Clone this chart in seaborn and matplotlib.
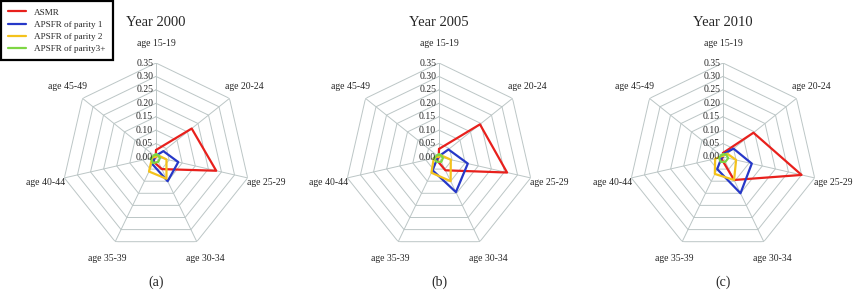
#!/usr/bin/env python3
"""Radar charts of age-specific fertility rates for 2000, 2005 and 2010."""

import numpy as np
import pandas as pd
import matplotlib
matplotlib.use("Agg")
import matplotlib.pyplot as plt
from matplotlib.lines import Line2D
import seaborn as sns

AGES = ["age 15-19", "age 20-24", "age 25-29", "age 30-34",
        "age 35-39", "age 40-44", "age 45-49"]
YEARS = ["Year 2000", "Year 2005", "Year 2010"]
PANELS = ["(a)", "(b)", "(c)"]
SERIES = ["ASMR", "APSFR of parity 1", "APSFR of parity 2", "APSFR of parity3+"]
RINGS = [0.05, 0.10, 0.15, 0.20, 0.25, 0.30, 0.35]
TICKS = [0.00, 0.05, 0.10, 0.15, 0.20, 0.25, 0.30, 0.35]

# values, one list per series and year
asmr_2000 = [0.026, 0.170, 0.230, 0.050, 0.020, 0.005, 0.001]
p1_2000 = [0.005, 0.035, 0.085, 0.100, 0.030, 0.005, 0.001]
p2_2000 = [0.002, 0.010, 0.040, 0.090, 0.060, 0.015, 0.002]
p3_2000 = [0.010, 0.010, 0.015, 0.020, 0.025, 0.020, 0.010]

asmr_2005 = [0.030, 0.195, 0.260, 0.055, 0.015, 0.003, 0.001]
p1_2005 = [0.003, 0.045, 0.110, 0.145, 0.055, 0.005, 0.001]
p2_2005 = [0.002, 0.010, 0.045, 0.100, 0.065, 0.020, 0.003]
p3_2005 = [0.010, 0.010, 0.015, 0.020, 0.020, 0.020, 0.010]

asmr_2010 = [0.015, 0.145, 0.300, 0.095, 0.010, 0.003, 0.001]
p1_2010 = [0.010, 0.050, 0.110, 0.150, 0.050, 0.005, 0.001]
p2_2010 = [0.005, 0.020, 0.050, 0.095, 0.070, 0.030, 0.005]
p3_2010 = [0.010, 0.015, 0.020, 0.020, 0.020, 0.015, 0.010]

DATA = {
    "Year 2000": [asmr_2000, p1_2000, p2_2000, p3_2000],
    "Year 2005": [asmr_2005, p1_2005, p2_2005, p3_2005],
    "Year 2010": [asmr_2010, p1_2010, p2_2010, p3_2010],
}

COLORS = {
    "ASMR": "#e8201c",
    "APSFR of parity 1": "#2638c8",
    "APSFR of parity 2": "#f4c21c",
    "APSFR of parity3+": "#7ed644",
}
GRID = "#bcc6c6"

W, H = 855, 294
CENTERS = [(156, 157), (439, 157), (723, 157)]
R_PX = 94

sns.set_style("white")
plt.rcParams["font.family"] = ["Liberation Serif", "DejaVu Serif"]

theta = np.linspace(0, 2 * np.pi, len(AGES), endpoint=False)
theta_closed = np.append(theta, 2 * np.pi)

fig = plt.figure(figsize=(W / 100, H / 100), dpi=100)

for year, panel, (cx, cy) in zip(YEARS, PANELS, CENTERS):
    ax = fig.add_axes([(cx - R_PX) / W, 1 - (cy + R_PX) / H,
                       2 * R_PX / W, 2 * R_PX / H], projection="polar")
    ax.set_theta_zero_location("N")
    ax.set_theta_direction(-1)
    ax.grid(False)
    ax.spines["polar"].set_visible(False)
    ax.patch.set_alpha(0)

    # heptagon grid
    for lvl in RINGS:
        ax.plot(theta_closed, [lvl] * len(theta_closed), color=GRID, lw=0.7, zorder=1)
    for th in theta:
        ax.plot([th, th], [0, RINGS[-1]], color=GRID, lw=0.7, zorder=1)

    rows = []
    for name, vals in zip(SERIES, DATA[year]):
        closed = list(vals) + [vals[0]]
        for th, v in zip(theta_closed, closed):
            rows.append({"theta": th, "value": v, "series": name})
    df = pd.DataFrame(rows)
    sns.lineplot(data=df, x="theta", y="value", hue="series", palette=COLORS,
                 sort=False, estimator=None, legend=False, lw=1.6, ax=ax, zorder=3)

    ax.set_xlabel("")
    ax.set_ylabel("")
    ax.set_xticks([])
    ax.set_yticks([])
    ax.set_ylim(0, RINGS[-1])

    for t in TICKS:
        ax.annotate(f"{t:.2f}", xy=(0, t), xytext=(-2, 0), textcoords="offset points",
                    ha="right", va="center", fontsize=7)
    for th, lab in zip(theta, AGES):
        ax.text(th, RINGS[-1] * 113 / R_PX, lab, ha="center", va="center", fontsize=7)

    fig.text(cx / W, 1 - 22.5 / H, year, ha="center", va="center", fontsize=10.5)
    fig.text(cx / W, 1 - 282 / H, panel, ha="center", va="center", fontsize=10)

handles = [Line2D([0], [0], color=COLORS[s], lw=1.6) for s in SERIES]
leg = fig.legend(handles, SERIES, loc="upper left", bbox_to_anchor=(0.001, 0.997),
                 frameon=True, fancybox=False, edgecolor="black", framealpha=1,
                 fontsize=6.6, handlelength=1.9, labelspacing=0.4, borderaxespad=0,
                 borderpad=0.8, handletextpad=0.9)
leg.get_frame().set_linewidth(1.6)

fig.savefig("out.png", dpi=100)
